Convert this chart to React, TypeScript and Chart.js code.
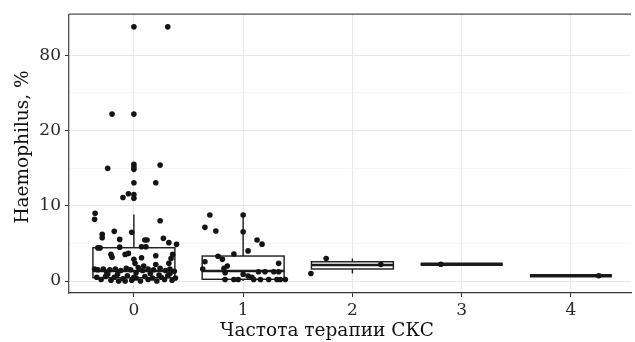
import React, { useEffect, useRef } from 'react';
import { Chart, registerables } from 'chart.js';

Chart.register(...registerables);

// Categories (x) and tick labels of the (non-linear) y axis.
const categories = ['0', '1', '2', '3', '4'];
const yTickLabels = ['0', '10', '20', '80']; // placed at axis units 0,1,2,3
const xTitle = 'Частота терапии СКС';
const yTitle = 'Haemophilus, %';

// Box statistics, in axis units (0 = 0 %, 1 = 10 %, 2 = 20 %, 3 = 80 %)
const whiskerLow = [0.0, 0.0, 0.1, 0.222, 0.07];
const q1 = [0.044, 0.023, 0.16, 0.222, 0.07];
const median = [0.133, 0.133, 0.212, 0.222, 0.07];
const q3 = [0.442, 0.332, 0.256, 0.222, 0.07];
const whiskerHigh = [0.885, 0.876, 0.3, 0.222, 0.07];

// Boxplot outliers (drawn at the category centre)
const outliers0 = [3.376, 2.217, 1.549, 1.513, 1.483, 1.305, 1.15, 1.1];

// Jittered observations: value and horizontal jitter
const values0 = [
  3.376, 2.217, 1.496, 1.54, 1.305, 1.159, 1.11, 0.9, 0.82, 0.8,
  0.62, 0.575, 0.66, 0.647, 0.553, 0.544, 0.544, 0.567, 0.51, 0.487,
  0.44, 0.44, 0.455, 0.455, 0.45, 0.354, 0.315, 0.354, 0.367, 0.336,
  0.354, 0.29, 0.31, 0.3, 0.235, 0.235, 0.2, 0.22,
  0.16, 0.15, 0.16, 0.15, 0.16, 0.14, 0.17, 0.15, 0.18, 0.14,
  0.16, 0.15, 0.17, 0.14, 0.16, 0.13, 0.12, 0.11, 0.1, 0.09,
  0.02, 0.06, 0.01, 0.05, 0.0, 0.03, 0.07, 0.01, 0.04, 0.0,
  0.06, 0.02, 0.04, 0.0, 0.05, 0.02, 0.07, 0.01, 0.04, 0.05,
  0.0, 0.05, 0.08, 0.09, 0.1,
];
const jitter0 = [
  0.31, -0.2, -0.24, 0.24, 0.2, -0.05, -0.1, -0.355, -0.36, 0.24,
  -0.29, -0.29, -0.18, -0.02, -0.13, 0.1, 0.12, 0.27, 0.32, 0.39,
  -0.33, -0.31, 0.07, 0.11, -0.13, -0.21, -0.2, -0.08, -0.05, 0.2,
  0.355, 0.0, 0.07, 0.34, 0.32, 0.01, 0.09, 0.2,
  -0.36, -0.33, -0.28, -0.22, -0.17, -0.12, -0.07, -0.03, 0.04, 0.08,
  0.13, 0.18, 0.24, 0.29, 0.33, 0.37, -0.25, 0.02, 0.15, -0.15,
  -0.3, -0.26, -0.21, -0.18, -0.14, -0.1, -0.06, -0.02, 0.02, 0.06,
  0.1, 0.13, 0.17, 0.21, 0.25, 0.28, 0.31, 0.35, 0.38, -0.34,
  -0.08, 0.0, 0.23, -0.24, 0.33,
];
const values1 = [
  0.876, 0.876, 0.713, 0.664, 0.654, 0.544, 0.49, 0.4, 0.358, 0.33,
  0.288, 0.256, 0.235, 0.16, 0.168, 0.2, 0.11, 0.09, 0.124, 0.124,
  0.124, 0.124, 0.066, 0.05, 0.02, 0.02, 0.02, 0.02, 0.02, 0.02,
  0.02, 0.02, 0.02,
];
const jitter1 = [
  -0.305, 0.0, -0.35, -0.25, 0.0, 0.127, 0.173, 0.045, -0.085, -0.23,
  -0.19, -0.35, 0.325, -0.37, -0.175, -0.145, -0.165, 0.0, 0.14, 0.2,
  0.28, 0.325, 0.045, 0.08, -0.166, -0.085, -0.045, 0.097, 0.158, 0.234,
  0.31, 0.34, 0.386,
];
const values2 = [0.3, 0.1, 0.22];
const jitter2 = [-0.24, -0.38, 0.26];
const values3 = [0.222];
const jitter3 = [-0.19];
const values4 = [0.07];
const jitter4 = [0.255];

const groupValues = [values0, values1, values2, values3, values4];
const groupJitter = [jitter0, jitter1, jitter2, jitter3, jitter4];

const FONT = "'DejaVu Serif', serif";
const BOX_HALF = 0.375;

const boxPlugin = {
  id: 'boxes',
  beforeDatasetsDraw(chart: any) {
    const { ctx } = chart;
    const xs = chart.scales.x;
    const ys = chart.scales.y;
    ctx.save();
    ctx.strokeStyle = '#1a1a1a';
    for (let i = 0; i < categories.length; i++) {
      const cx = xs.getPixelForValue(i);
      const l = xs.getPixelForValue(i - BOX_HALF);
      const r = xs.getPixelForValue(i + BOX_HALF);
      const yLow = ys.getPixelForValue(whiskerLow[i]);
      const yQ1 = ys.getPixelForValue(q1[i]);
      const yMed = ys.getPixelForValue(median[i]);
      const yQ3 = ys.getPixelForValue(q3[i]);
      const yHigh = ys.getPixelForValue(whiskerHigh[i]);
      ctx.lineWidth = 1.4;
      ctx.beginPath();
      ctx.moveTo(cx, yLow);
      ctx.lineTo(cx, yQ1);
      ctx.moveTo(cx, yQ3);
      ctx.lineTo(cx, yHigh);
      ctx.stroke();
      ctx.fillStyle = '#ffffff';
      ctx.fillRect(l, yQ3, r - l, yQ1 - yQ3);
      ctx.strokeRect(l, yQ3, r - l, yQ1 - yQ3);
      ctx.lineWidth = yQ1 - yQ3 < 1 ? 3.4 : 2.6;
      ctx.beginPath();
      ctx.moveTo(l, yMed);
      ctx.lineTo(r, yMed);
      ctx.stroke();
    }
    ctx.restore();
  },
  afterDraw(chart: any) {
    const { ctx, chartArea } = chart;
    ctx.save();
    ctx.strokeStyle = '#4d4d4d';
    ctx.lineWidth = 1.3;
    ctx.beginPath();
    ctx.moveTo(chartArea.left, chartArea.top);
    ctx.lineTo(chartArea.right, chartArea.top);
    ctx.stroke();
    // axis titles
    ctx.fillStyle = '#111111';
    ctx.font = `18.5px ${FONT}`;
    ctx.textAlign = 'center';
    ctx.textBaseline = 'middle';
    ctx.fillText(xTitle, 327, 331);
    ctx.translate(23, 147);
    ctx.rotate(-Math.PI / 2);
    ctx.fillText(yTitle, 0, 0);
    ctx.restore();
  },
};

export default function App() {
  const ref = useRef<HTMLCanvasElement>(null);
  useEffect(() => {
    if (!ref.current) return;
    const pointData: any[] = [];
    groupValues.forEach((vals, g) => {
      vals.forEach((v, k) => pointData.push({ x: g + groupJitter[g][k], y: v }));
    });
    const outlierData = outliers0.map((v) => ({ x: 0, y: v }));
    const chart = new Chart(ref.current, {
      type: 'scatter',
      data: {
        datasets: [
          {
            data: outlierData,
            pointRadius: 2.8,
            pointBackgroundColor: '#141414',
            pointBorderWidth: 0,
          },
          {
            data: pointData,
            pointRadius: 2.8,
            pointBackgroundColor: '#141414',
            pointBorderWidth: 0,
          },
        ],
      },
      options: {
        responsive: false,
        animation: false,
        events: [],
        layout: { padding: { top: 14, left: 0, right: 0, bottom: 0 } },
        plugins: { legend: { display: false }, tooltip: { enabled: false } },
        scales: {
          x: {
            type: 'linear',
            min: -0.594,
            max: 4.55,
            afterBuildTicks: (s: any) => {
              s.ticks = categories.map((_, i) => ({ value: i }));
            },
            afterFit: (s: any) => {
              s.height = 49;
            },
            ticks: {
              callback: (_v: any, i: number) => categories[i],
              font: { family: FONT, size: 17 },
              color: '#2a2a2a',
              padding: 3,
              autoSkip: false,
              maxRotation: 0,
            },
            grid: { color: '#e8e8e8', lineWidth: 1, tickColor: '#333333', tickLength: 4 },
            border: { color: '#333333', width: 1.2 },
            title: { display: false },
          },
          y: {
            type: 'linear',
            min: -0.159,
            max: 3.544,
            afterBuildTicks: (s: any) => {
              s.ticks = [0, 0.5, 1, 1.5, 2, 2.5, 3].map((v) => ({ value: v }));
            },
            afterFit: (s: any) => {
              s.width = 69;
            },
            ticks: {
              callback: (v: any) => (Number.isInteger(v) ? yTickLabels[v] : ''),
              font: { family: FONT, size: 17 },
              color: '#2a2a2a',
              padding: 4,
            },
            grid: {
              color: (c: any) => (c.tick && Number.isInteger(c.tick.value) ? '#e6e6e6' : '#f2f2f2'),
              lineWidth: (c: any) => (c.tick && Number.isInteger(c.tick.value) ? 1 : 0.7),
              tickColor: (c: any) => (c.tick && Number.isInteger(c.tick.value) ? '#333333' : 'rgba(0,0,0,0)'),
              tickLength: 4,
            },
            border: { color: '#4d4d4d', width: 1.3 },
            title: { display: false },
          },
        },
      },
      plugins: [boxPlugin],
    });
    return () => chart.destroy();
  }, []);
  return (
    <div style={{ position: 'absolute', left: 0, top: 0, width: 635, height: 342, background: '#fff' }}>
      <canvas ref={ref} width={635} height={342} />
    </div>
  );
}
